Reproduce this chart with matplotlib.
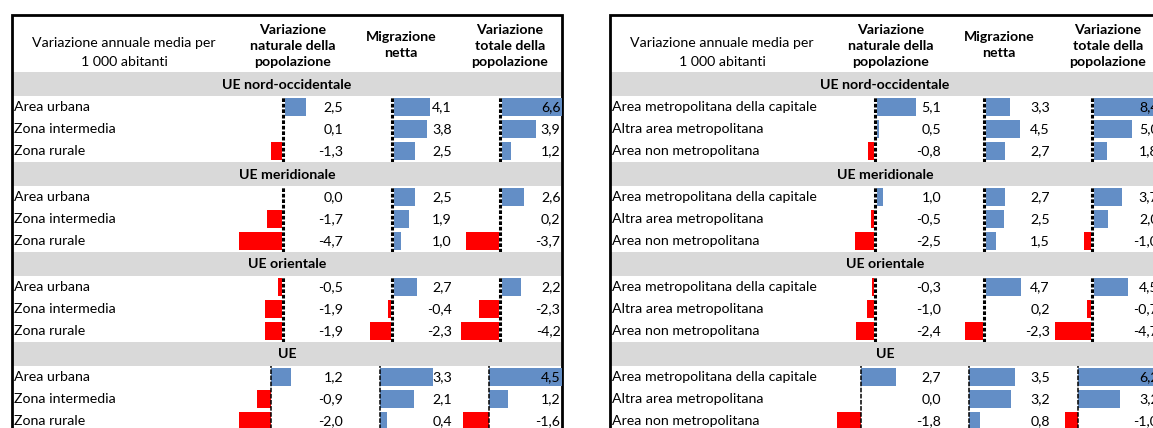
import matplotlib.pyplot as plt
from matplotlib.patches import Rectangle

plt.rcParams['font.family'] = ['Lato', 'DejaVu Sans']

# dati
gruppi = ["UE nord-occidentale", "UE meridionale", "UE orientale", "UE"]
righe_sx = ["Area urbana", "Zona intermedia", "Zona rurale"]
righe_dx = ["Area metropolitana della capitale", "Altra area metropolitana", "Area non metropolitana"]
colonne = ["Variazione\nnaturale della\npopolazione", "Migrazione\nnetta", "Variazione\ntotale della\npopolazione"]
titolo = ["Variazione annuale media per", "1 000 abitanti"]

# pannello sinistro (urbano / intermedio / rurale), un elenco per gruppo
nat_sx = [[2.5, 0.1, -1.3], [0.0, -1.7, -4.7], [-0.5, -1.9, -1.9], [1.2, -0.9, -2.0]]
mig_sx = [[4.1, 3.8, 2.5], [2.5, 1.9, 1.0], [2.7, -0.4, -2.3], [3.3, 2.1, 0.4]]
tot_sx = [[6.6, 3.9, 1.2], [2.6, 0.2, -3.7], [2.2, -2.3, -4.2], [4.5, 1.2, -1.6]]

# pannello destro (metropolitano)
nat_dx = [[5.1, 0.5, -0.8], [1.0, -0.5, -2.5], [-0.3, -1.0, -2.4], [2.7, 0.0, -1.8]]
mig_dx = [[3.3, 4.5, 2.7], [2.7, 2.5, 1.5], [4.7, 0.2, -2.3], [3.5, 3.2, 0.8]]
tot_dx = [[8.4, 5.0, 1.8], [3.7, 2.0, -1.0], [4.5, -0.7, -4.7], [6.2, 3.2, -1.0]]

W, H = 1153, 428
fs = 10.2
blu = '#638EC6'
rosso = '#FF0000'
grigio = '#D9D9D9'

fig = plt.figure(figsize=(W / 100, H / 100), dpi=100)
bg = fig.add_axes([0, 0, 1, 1])
bg.set_xlim(0, W)
bg.set_ylim(H, 0)
bg.axis('off')


def assi_px(x0, y0, x1, y1):
    # axes posizionato in pixel (y dall'alto)
    return fig.add_axes([x0 / W, 1 - y1 / H, (x1 - x0) / W, (y1 - y0) / H])


def fmt(v):
    return f"{v:.1f}".replace('.', ',').replace('-0,0', '0,0')


pannelli = [(12, righe_sx, [nat_sx, mig_sx, tot_sx]),
            (610, righe_dx, [nat_dx, mig_dx, tot_dx])]
larg_pan = 550
larg_etich = 224
larg_cella = 108.7

for x0, righe, cols in pannelli:
    x1 = x0 + larg_pan

    # intestazione
    cx = x0 + larg_etich / 2
    bg.text(cx, 43, titolo[0], ha='center', va='center', fontsize=fs)
    bg.text(cx, 62, titolo[1], ha='center', va='center', fontsize=fs)
    for j, c in enumerate(colonne):
        xc = x0 + larg_etich + (j + 0.5) * larg_cella + 2
        bg.text(xc, 46 if c.count('\n') == 2 else 45, c, ha='center', va='center',
                fontsize=fs, fontweight='bold', linespacing=1.42)

    # scale: i primi tre gruppi insieme, UE a parte
    v_reg = [v for col in cols for g in col[:3] for v in g]
    v_ue = [v for col in cols for v in col[3]]

    for g, nome in enumerate(gruppi):
        y0 = 72 + 90 * g
        bg.add_patch(Rectangle((x0 + 1, y0), larg_pan - 2, 24, color=grigio, lw=0))
        bg.text((x0 + x1) / 2, y0 + 12.5, nome, ha='center', va='center',
                fontsize=fs, fontweight='bold')
        for i, r in enumerate(righe):
            bg.text(x0 + 2, y0 + 35 + 22 * i, r, ha='left', va='center', fontsize=fs)

        tutti = v_ue if g == 3 else v_reg
        mn, mx = min(tutti), max(tutti)
        rng = mx - mn

        for j, col in enumerate(cols):
            vals = col[g]
            cl = x0 + larg_etich + j * larg_cella
            ax = assi_px(cl, y0 + 24, cl + larg_cella, y0 + 90)
            ax.set_xlim(mn - 0.03 * rng, mx + 0.005 * rng)
            ax.set_ylim(2.5, -0.5)
            ax.barh(range(3), vals, height=0.84,
                    color=[blu if v >= 0 else rosso for v in vals])
            if g == 3:
                ax.axvline(0, color='black', lw=1.1, ls=(0, (3, 1)))
            else:
                ax.axvline(0, color='white', lw=2.2)
                ax.axvline(0, color='black', lw=2.2, ls=(0, (1.2, 0.6)))
            for i, v in enumerate(vals):
                ax.text(0.985, i, fmt(v), transform=ax.get_yaxis_transform(),
                        ha='right', va='center', fontsize=fs, zorder=5)
            ax.axis('off')

    # bordo
    bg.plot([x0, x0, x1, x1], [H + 10, 15, 15, H + 10], color='black', lw=2,
            solid_joinstyle='miter')

fig.savefig('out.png', dpi=100)
